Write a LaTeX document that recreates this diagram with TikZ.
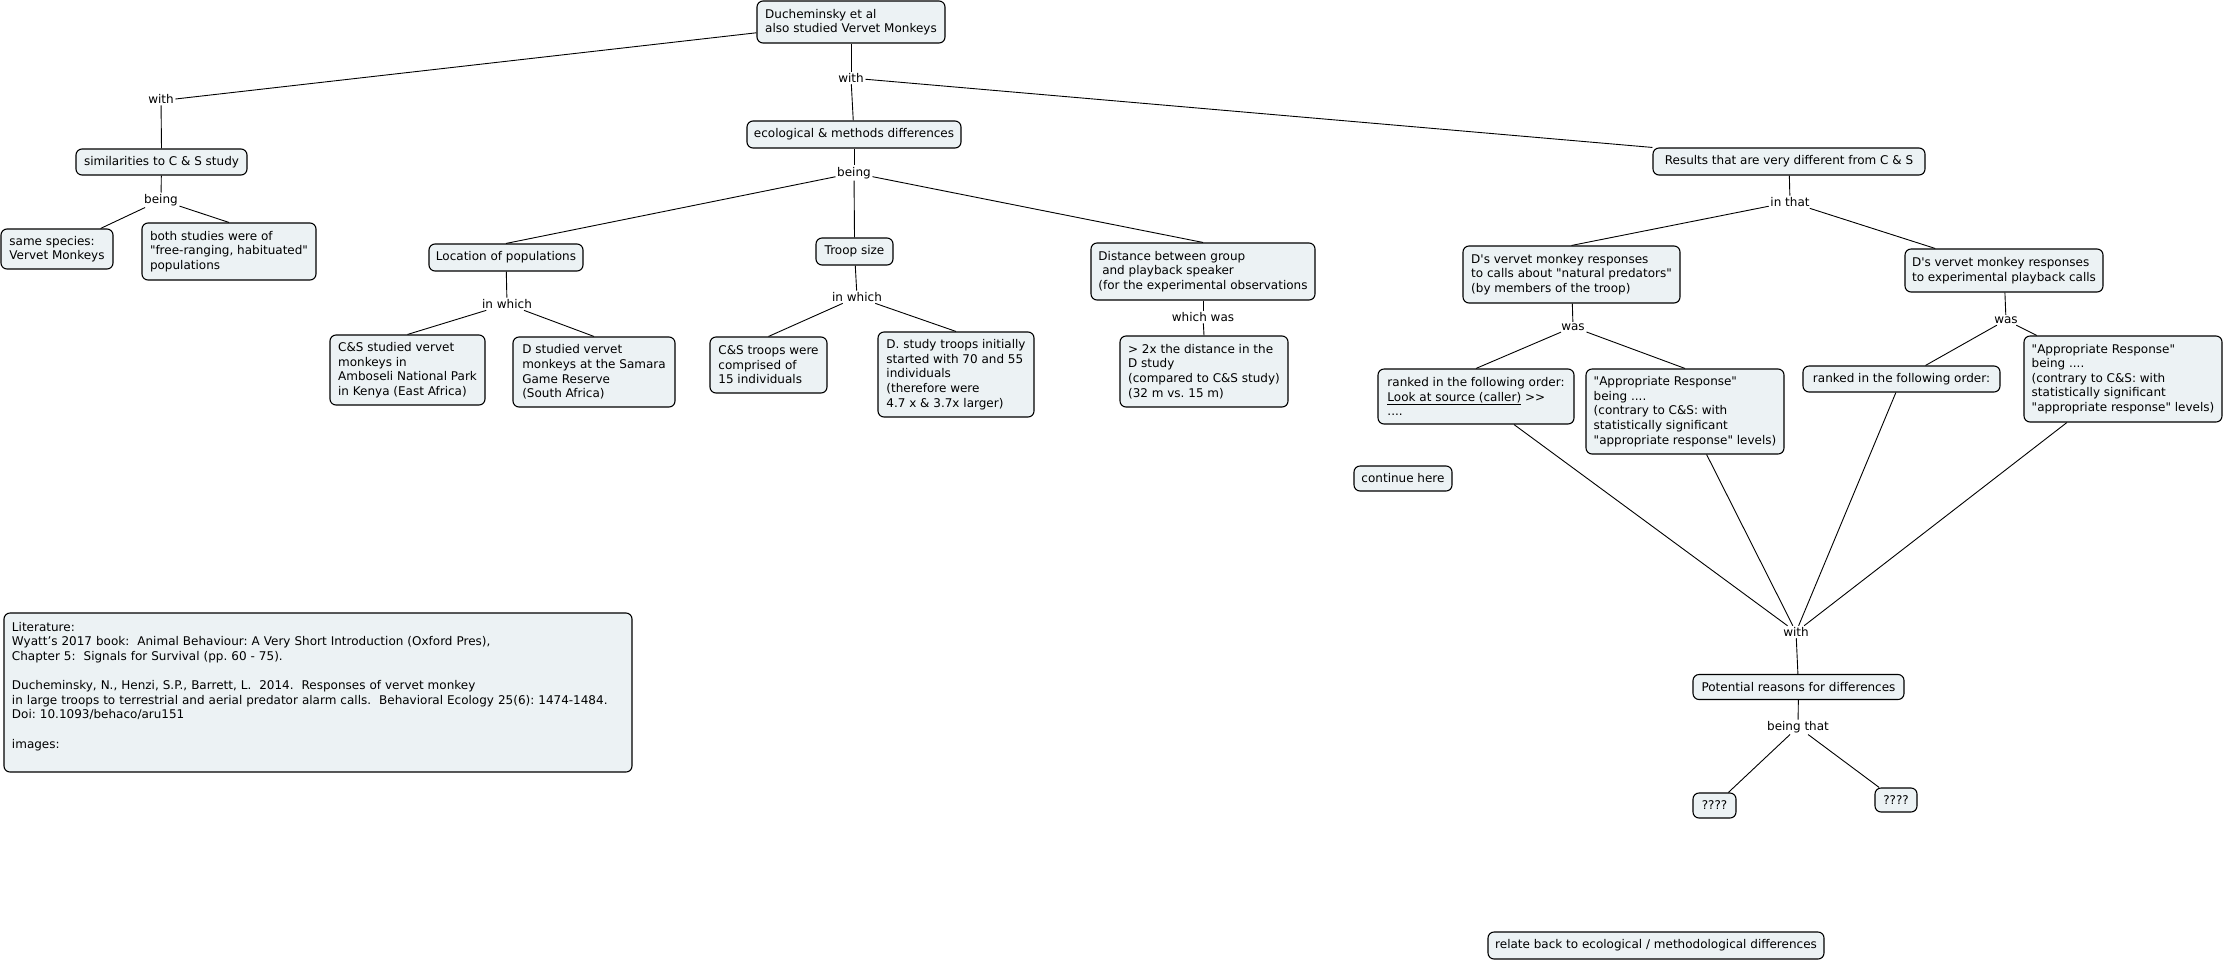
\documentclass[tikz,border=0pt]{standalone}
\usepackage{fontspec}
\setmainfont{DejaVu Sans}[Ligatures=TeXOff]
\usetikzlibrary{calc}
\definecolor{boxfill}{HTML}{ECF2F4}
\tikzset{
  cbox/.style={draw=black, line width=1.1pt, fill=boxfill, rounded corners=6pt,
    align=left, inner xsep=6pt, inner ysep=4pt, font=\fontsize{12}{14.6}\selectfont},
  lbl/.style={inner sep=1.5pt, font=\fontsize{12}{14.6}\selectfont},
  conn/.style={line width=0.9pt, black}
}
\frenchspacing
\begin{document}
\begin{tikzpicture}[x=1pt,y=-1pt]
\useasboundingbox (0,0) rectangle (2225,962);
% concepts
\node[cbox, minimum width=188, minimum height=42] (top) at (851,22) {Ducheminsky et al\\also studied Vervet Monkeys};
\node[cbox, minimum width=171, minimum height=26] (sim) at (161.5,162) {similarities to C \& S study};
\node[cbox, minimum width=112, minimum height=40] (same) at (57,249) {same species:\\Vervet Monkeys};
\node[cbox, minimum width=174, minimum height=57] (both) at (229,251.5) {both studies were of\\"free-ranging, habituated"\\populations};
\node[cbox, minimum width=214, minimum height=27] (eco) at (854,134.5) {ecological \& methods differences};
\node[cbox, minimum width=154, minimum height=27] (loc) at (506,257.5) {Location of populations};
\node[cbox, minimum width=155, minimum height=70] (cs1) at (407.5,370) {C\&S studied vervet\\monkeys in\\Amboseli National Park\\in Kenya (East Africa)};
\node[cbox, minimum width=162, minimum height=70] (d1) at (594,372) {D studied vervet\\monkeys at the Samara\\Game Reserve\\(South Africa)};
\node[cbox, minimum width=77, minimum height=27] (troop) at (854.5,251.5) {Troop size};
\node[cbox, minimum width=117, minimum height=56] (cs2) at (768.5,365) {C\&S troops were\\comprised of\\15 individuals};
\node[cbox, minimum width=156, minimum height=85] (d2) at (956,374.5) {D. study troops initially\\started with 70 and 55\\individuals\\(therefore were\\4.7 x \& 3.7x larger)};
\node[cbox, minimum width=224, minimum height=57] (dist) at (1203,271.5) {Distance between group\\\ and playback speaker\\(for the experimental observations};
\node[cbox, minimum width=168, minimum height=71] (x2) at (1204,371.5) {> 2x the distance in the\\D study\\(compared to C\&S study)\\(32 m vs. 15 m)};
\node[cbox, minimum width=272, minimum height=27] (res) at (1789,161.5) {Results that are very different from C \& S};
\node[cbox, minimum width=217, minimum height=57] (nat) at (1571.5,274.5) {D's vervet monkey responses\\to calls about "natural predators"\\(by members of the troop)};
\node[cbox, minimum width=198, minimum height=43] (pb) at (2004,270.5) {D's vervet monkey responses\\to experimental playback calls};
\node[cbox, minimum width=196, minimum height=55] (rk1) at (1476,396.5) {ranked in the following order:\\\underline{Look at source (caller)} >>\\....};
\node[cbox, minimum width=198, minimum height=85] (ap1) at (1685,411.5) {"Appropriate Response"\\being ....\\(contrary to C\&S: with\\statistically significant\\"appropriate response" levels)};
\node[cbox, minimum width=197, minimum height=26] (rk2) at (1901.5,379) {ranked in the following order:};
\node[cbox, minimum width=198, minimum height=86] (ap2) at (2123,379) {"Appropriate Response"\\being ....\\(contrary to C\&S: with\\statistically significant\\"appropriate response" levels)};
\node[cbox, minimum width=98, minimum height=25] (cont) at (1403,478.5) {continue here};
\node[cbox, minimum width=211, minimum height=25] (pot) at (1798.5,687) {Potential reasons for differences};
\node[cbox, minimum width=43, minimum height=25] (q1) at (1714.5,805.5) {????};
\node[cbox, minimum width=42, minimum height=24] (q2) at (1896,800) {????};
\node[cbox, minimum width=336, minimum height=27] (rel) at (1656,945.5) {relate back to ecological / methodological differences};
\node[cbox, minimum width=628, minimum height=159, text width=612] (lit) at (318,692.5) {Literature:\\Wyatt’s 2017 book:\ \ Animal Behaviour: A Very Short Introduction (Oxford Pres),\\Chapter 5:\ \ Signals for Survival (pp. 60 - 75).\\\mbox{}\\Ducheminsky, N., Henzi, S.P., Barrett, L.\ \ 2014.\ \ Responses of vervet monkey\\in large troops to terrestrial and aerial predator alarm calls.\ \ Behavioral Ecology 25(6): 1474-1484.\\Doi: 10.1093/behaco/aru151\\\mbox{}\\images:\\\mbox{}};
% linking phrases
\node[lbl] (withL) at (161,99) {with};
\node[lbl] (beingL) at (161,200) {being};
\node[lbl] (withM) at (851,78) {with};
\node[lbl] (beingM) at (854,173) {being};
\node[lbl] (iwL) at (507,304) {in which};
\node[lbl] (iwT) at (857,297) {in which};
\node[lbl] (ww) at (1203,317) {which was};
\node[lbl] (it) at (1790,202) {in that};
\node[lbl] (wasL) at (1573,327) {was};
\node[lbl] (wasR) at (2006,320) {was};
\node[lbl] (withB) at (1796,632) {with};
\node[lbl] (bt) at (1798,727) {being that};
% connectors
\draw[conn] ($(top.west)!0.5!(top.south west)$) -- (withL.east);
\draw[conn] (withL) -- (sim.north);
\draw[conn] (sim) -- (beingL);
\draw[conn] (beingL) -- (same);
\draw[conn] (beingL) -- (both.north);
\draw[conn] (top) -- (withM);
\draw[conn] (withM) -- (eco);
\draw[conn] (withM) -- (res.north west);
\draw[conn] (eco) -- (beingM);
\draw[conn] (beingM) -- (loc.north);
\draw[conn] (beingM) -- (troop.north);
\draw[conn] (beingM) -- (dist.north);
\draw[conn] (loc) -- (iwL);
\draw[conn] (iwL) -- (cs1.north);
\draw[conn] (iwL) -- (d1.north);
\draw[conn] (troop) -- (iwT);
\draw[conn] (iwT) -- (cs2.north);
\draw[conn] (iwT) -- (d2.north);
\draw[conn] (dist) -- (ww);
\draw[conn] (ww) -- (x2.north);
\draw[conn] (res) -- (it);
\draw[conn] (it) -- (nat.north);
\draw[conn] (it) -- (pb);
\draw[conn] (nat) -- (wasL);
\draw[conn] (wasL) -- (rk1.north);
\draw[conn] (wasL) -- (ap1.north);
\draw[conn] (pb) -- (wasR);
\draw[conn] (wasR) -- (rk2);
\draw[conn] (wasR) -- (ap2);
\draw[conn] (rk1) -- (withB);
\draw[conn] (ap1) -- (withB);
\draw[conn] (rk2) -- (withB);
\draw[conn] (ap2) -- (withB);
\draw[conn] (withB) -- (pot);
\draw[conn] (pot) -- (bt);
\draw[conn] (bt) -- (q1);
\draw[conn] (bt) -- (q2);
\end{tikzpicture}
\end{document}
